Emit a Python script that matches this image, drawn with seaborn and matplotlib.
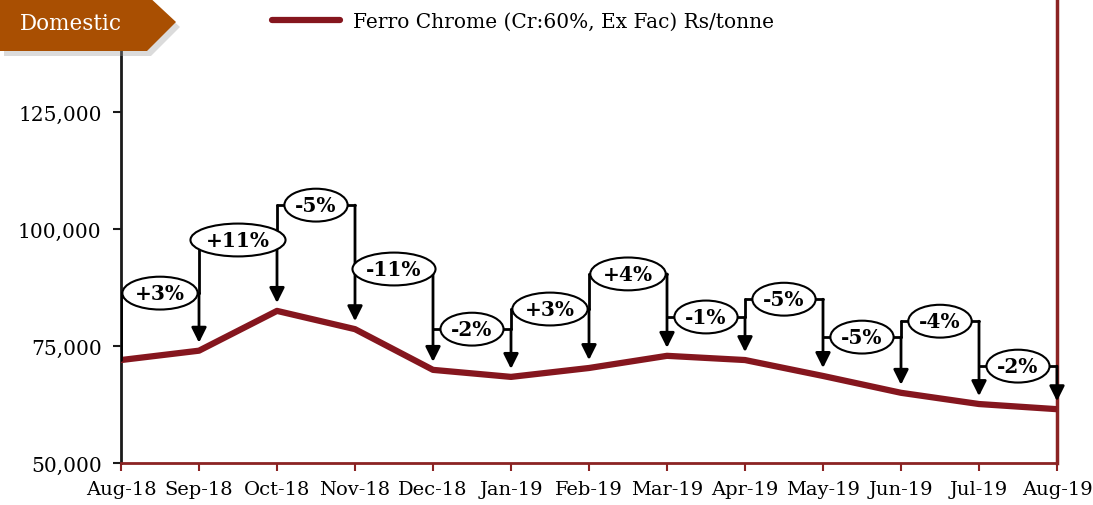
import matplotlib
matplotlib.use("Agg")
import matplotlib.pyplot as plt
from matplotlib.patches import Polygon
from matplotlib.ticker import FuncFormatter
import seaborn as sns
import pandas as pd

months = ["Aug-18", "Sep-18", "Oct-18", "Nov-18", "Dec-18", "Jan-19", "Feb-19",
          "Mar-19", "Apr-19", "May-19", "Jun-19", "Jul-19", "Aug-19"]
prices = [72000, 74000, 82500, 78600, 69900, 68400, 70300,
          72900, 72000, 68600, 65000, 62600, 61500]
changes = ["+3%", "+11%", "-5%", "-11%", "-2%", "+3%", "+4%",
           "-1%", "-5%", "-5%", "-4%", "-2%"]
# height of each bracket (data units)
bracket_y = [86300, 97650, 105100, 91450, 78600, 82900, 90400,
             81200, 85000, 76900, 80300, 70700]

series_name = "Ferro Chrome (Cr:60%, Ex Fac) Rs/tonne"
line_color = "#85161E"
spine_red = "#8B2323"

sns.set_style("white")
plt.rcParams["font.family"] = ["DejaVu Serif", "DejaVu Sans"]
plt.rcParams["text.color"] = "black"
plt.rcParams["xtick.color"] = "black"
plt.rcParams["ytick.color"] = "black"

df = pd.DataFrame({"month": months, "price": prices})

fig = plt.figure(figsize=(10.93, 5.06), dpi=100)
ax = fig.add_axes([121 / 1093, 42 / 506, 936 / 1093, 468 / 506])

sns.lineplot(data=df, x="month", y="price", sort=False, color=line_color,
             linewidth=4.5, label=series_name, ax=ax, zorder=3)

ax.set_xlim(0, len(months) - 1)
ax.set_ylim(50000, 150000)
ax.set_yticks([50000, 75000, 100000, 125000])
ax.yaxis.set_major_formatter(FuncFormatter(lambda v, p: f"{int(v):,}"))
ax.set_xlabel("")
ax.set_ylabel("")

ax.spines["top"].set_visible(False)
ax.spines["left"].set_color("#1a1a1a")
ax.spines["left"].set_linewidth(2)
ax.spines["bottom"].set_color(spine_red)
ax.spines["bottom"].set_linewidth(2)
ax.spines["right"].set_color(spine_red)
ax.spines["right"].set_linewidth(2.5)
ax.tick_params(axis="y", left=True, length=6, width=1.5, color="#1a1a1a",
               labelsize=14.5, pad=8, labelcolor="black")
ax.tick_params(axis="x", bottom=True, length=6, width=1.5, color=spine_red,
               labelsize=14, pad=6, labelcolor="black")

# percentage change brackets
gap = 1700
for i, (lab, h) in enumerate(zip(changes, bracket_y), start=1):
    x0, x1 = i - 1, i
    ax.plot([x0, x1], [h, h], color="black", lw=2, zorder=4)
    prev_top = bracket_y[i - 2] if i > 1 else prices[0]
    if h > prev_top:
        ax.plot([x0, x0], [h, prev_top], color="black", lw=2, zorder=4)
    ax.annotate("", xy=(x1, prices[i] + gap), xytext=(x1, h),
                arrowprops=dict(arrowstyle="-|>,head_length=0.9,head_width=0.45",
                                color="black", lw=2, shrinkA=0, shrinkB=0),
                zorder=4)
    ax.text((x0 + x1) / 2, h, lab, ha="center", va="center", fontsize=14.5,
            fontweight="bold", color="black", zorder=5,
            bbox=dict(boxstyle="ellipse,pad=0.08", fc="white", ec="black", lw=1.5))

ax.legend(loc="upper left", bbox_to_anchor=(272 / 1093, 0.975),
          bbox_transform=fig.transFigure, frameon=False, fontsize=14.5,
          handlelength=3.4, handletextpad=0.6, borderpad=0, borderaxespad=0)

# "Domestic" tag
W, H = 1093, 506
def fp(px, py):
    return (px / W, 1 - py / H)
shape = [(0, -4), (147, -4), (176, 23), (147, 52), (0, 52)]
shadow = Polygon([fp(x + 4, y + 5) for x, y in shape], closed=True,
                 transform=fig.transFigure, fc="#999999", alpha=0.35, ec="none",
                 zorder=9)
tag = Polygon([fp(x, y) for x, y in shape], closed=True,
              transform=fig.transFigure, fc="#A94F02", ec="none", zorder=10)
fig.patches.extend([shadow, tag])
fig.text(71 / W, 1 - 24 / H, "Domestic", color="white", fontsize=15.5,
         ha="center", va="center", zorder=11)

fig.savefig("out.png", dpi=100)
